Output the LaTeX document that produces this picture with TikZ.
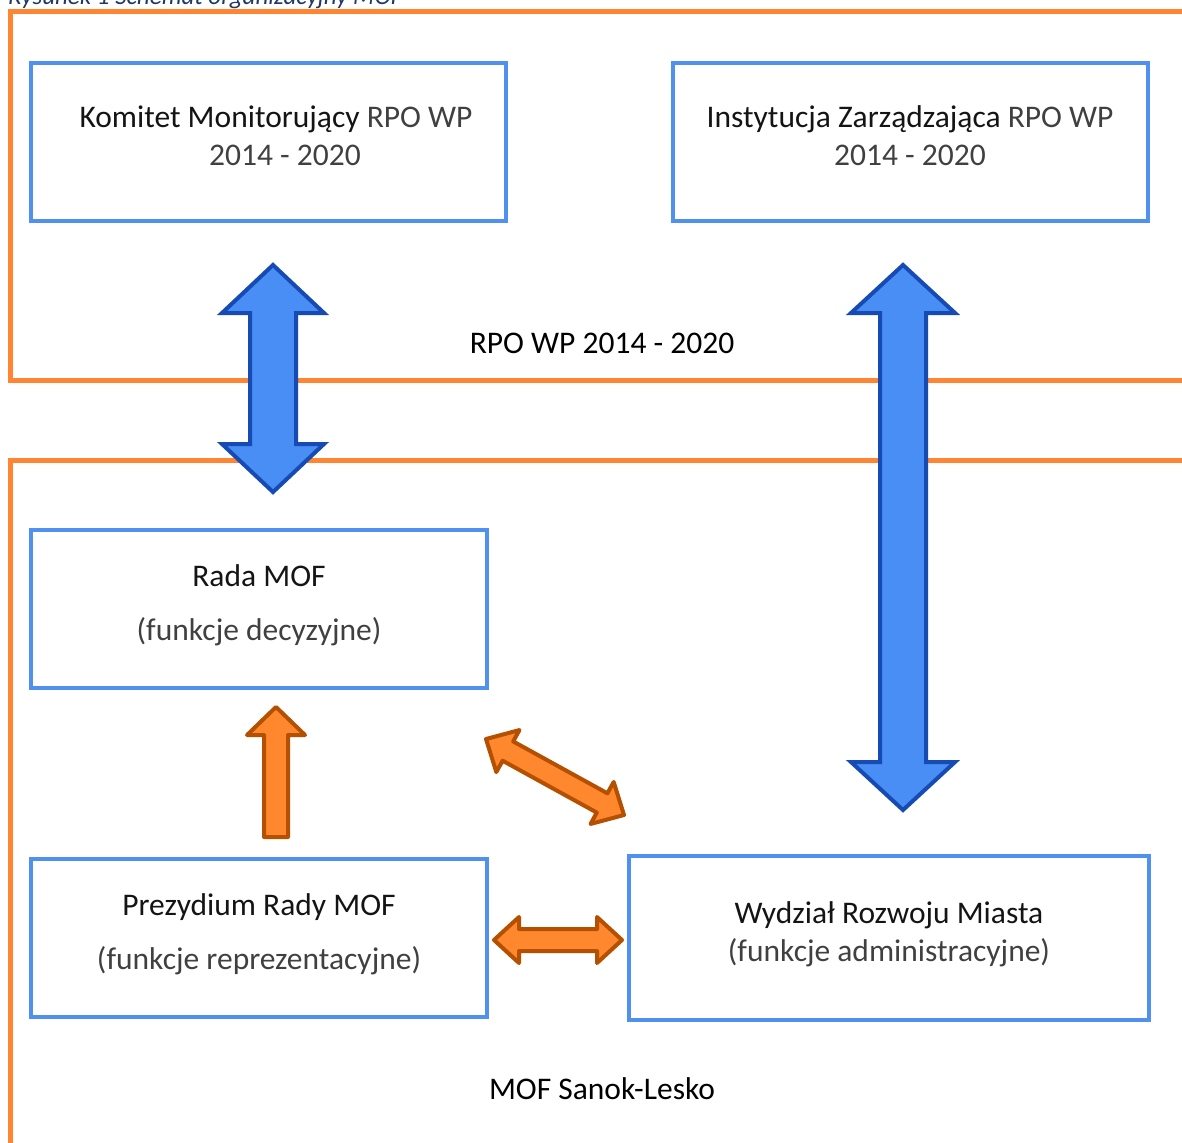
\documentclass[tikz,border=0pt]{standalone}
\usepackage{fontspec}
\setmainfont{Carlito}
\usepackage{xcolor}
\usepackage{tikz}
\usetikzlibrary{calc, positioning}
\definecolor{framecolor}{RGB}{255, 133, 51}
\definecolor{boxcolor}{RGB}{80, 145, 240}
\definecolor{bluefill}{RGB}{72, 142, 245}
\definecolor{blueedge}{RGB}{22, 75, 180}
\definecolor{orangefill}{RGB}{255, 135, 45}
\definecolor{orangeedge}{RGB}{180, 80, 0}
\definecolor{textgray}{RGB}{64, 64, 64}
\definecolor{textdark}{RGB}{20, 20, 20}
\definecolor{captioncolor}{RGB}{31, 56, 100}

% block arrow with two heads: style, tip A, tip B, shaft half width, head half width, head length
\newcommand{\blockarrow}[6]{%
  \coordinate (ba1) at ($(#2)!#6!(#3)$);
  \coordinate (ba2) at ($(#3)!#6!(#2)$);
  \draw[#1] (#2) -- ($(ba1)!#5!90:(#3)$) -- ($(ba1)!#4!90:(#3)$) -- ($(ba2)!#4!-90:(#2)$) -- ($(ba2)!#5!-90:(#2)$) -- (#3) -- ($(ba2)!#5!90:(#2)$) -- ($(ba2)!#4!90:(#2)$) -- ($(ba1)!#4!-90:(#3)$) -- ($(ba1)!#5!-90:(#3)$) -- cycle;
}
% block arrow with one head at A, flat tail at B
\newcommand{\singleblockarrow}[6]{%
  \coordinate (ba1) at ($(#2)!#6!(#3)$);
  \draw[#1] (#2) -- ($(ba1)!#5!90:(#3)$) -- ($(ba1)!#4!90:(#3)$) -- ($(#3)!#4!-90:(#2)$) -- ($(#3)!#4!90:(#2)$) -- ($(ba1)!#4!-90:(#3)$) -- ($(ba1)!#5!-90:(#3)$) -- cycle;
}

\begin{document}
\begin{tikzpicture}[
    x=1pt, y=-1pt,
    font=\fontsize{31.5}{38}\selectfont,
    box/.style={rectangle, draw=boxcolor, line width=4pt, minimum width=475pt, minimum height=158pt, align=center, text=textgray, text depth=13pt},
    frame/.style={draw=framecolor, line width=5pt},
    bluearrow/.style={fill=bluefill, draw=blueedge, line width=4pt},
    orangearrow/.style={fill=orangefill, draw=orangeedge, line width=4pt, line join=round}
]
\useasboundingbox (0,0) rectangle (1182,1142);

\node[anchor=base west, font=\fontsize{25}{30}\selectfont\itshape, text=captioncolor, inner sep=0pt] (caption) at (8,5) {Rysunek 1 Schemat organizacyjny MOF};

% frames
\draw[frame] (1185,12) -- (10,12) -- (10,380) -- (1185,380);
\draw[frame] (1185,460) -- (10,460) -- (10,1145);

\node (rpolabel) at (602,343) {RPO WP 2014 - 2020};
\node (moflabel) at (602,1089) {MOF Sanok-Lesko};

% boxes
\node[box] (komitet) at (268,142) {\hspace*{16pt}\textcolor{textdark}{Komitet Monitorujący} RPO WP\\\hspace*{34pt}2014 - 2020};
\node[box] (instytucja) at (910,142) {\textcolor{textdark}{Instytucja Zarządzająca} RPO WP\\2014 - 2020};
\node[box, minimum width=456pt] (rada) at (259,609) {\textcolor{textdark}{Rada MOF}\\[16pt](funkcje decyzyjne)};
\node[box, minimum width=456pt] (prezydium) at (259,938) {\textcolor{textdark}{Prezydium Rady MOF}\\[16pt](funkcje reprezentacyjne)};
\node[box, minimum width=520pt, minimum height=164pt] (wydzial) at (889,938) {\textcolor{textdark}{Wydział Rozwoju Miasta}\\(funkcje administracyjne)};

% arrow ends
\coordinate (komitet-end) at (273,265);
\coordinate (rada-top) at (273,492);
\coordinate (instytucja-end) at (903,265);
\coordinate (wydzial-top) at (903,810);
\coordinate (rada-bottom) at (276,707);
\coordinate (prezydium-top) at (276,837);
\coordinate (rada-corner) at (486,739);
\coordinate (wydzial-corner) at (624,815);
\coordinate (prezydium-right) at (494,940);
\coordinate (wydzial-left) at (622,940);

\blockarrow{bluearrow}{komitet-end}{rada-top}{23pt}{51pt}{48pt}
\blockarrow{bluearrow}{instytucja-end}{wydzial-top}{23pt}{52pt}{48pt}
\singleblockarrow{orangearrow}{rada-bottom}{prezydium-top}{12pt}{29pt}{28pt}
\blockarrow{orangearrow}{rada-corner}{wydzial-corner}{11pt}{24pt}{25pt}
\blockarrow{orangearrow}{prezydium-right}{wydzial-left}{11pt}{23pt}{25pt}
\end{tikzpicture}
\end{document}
